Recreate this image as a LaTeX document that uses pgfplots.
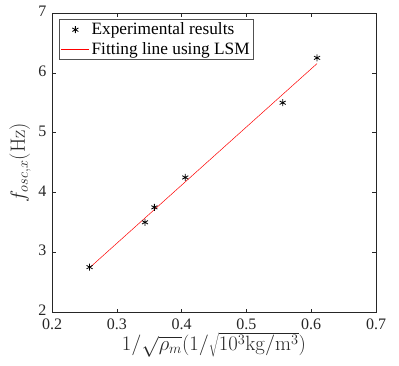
\documentclass[border=0pt]{standalone}
\usepackage[no-math]{fontspec}
\setmainfont{Liberation Serif}
\usepackage{pgfplots}
\pgfplotsset{compat=1.18}
\definecolor{axgray}{RGB}{38,38,38}
\begin{document}
\begin{tikzpicture}
\begin{axis}[
  scale only axis,
  width=324bp, height=299bp,
  xmin=0.2, xmax=0.7, ymin=2, ymax=7,
  xtick={0.2,0.3,0.4,0.5,0.6,0.7},
  ytick={2,3,4,5,6,7},
  /pgf/number format/assume math mode=true,
  xticklabel={\pgfmathprintnumber[fixed,precision=1]{\tick}},
  yticklabel={\pgfmathprintnumber[fixed,precision=0]{\tick}},
  tick align=inside,
  major tick length=3.5bp,
  axis line style={axgray, line width=0.5pt},
  every tick/.style={axgray, line width=0.5pt},
  tick label style={font=\fontsize{16bp}{18bp}\selectfont, text=axgray},
  xticklabel style={yshift=-3bp},
  yticklabel style={xshift=-2bp, yshift=1.5bp},
  label style={text=axgray},
  xlabel={\fontsize{21.5bp}{23bp}\selectfont $1/\sqrt{\rho_m}(1/\sqrt{10^3\mathrm{kg/m^3}})$},
  ylabel={\fontsize{21.5bp}{23bp}\selectfont $f_{osc,x}(\mathrm{Hz})$},
  xlabel style={yshift=4bp},
  ylabel style={yshift=1bp},
  legend style={at={(rel axis cs:0.022,0.98)}, anchor=north west,
    draw=axgray!80, line width=1pt, font=\fontsize{17.3bp}{19bp}\selectfont,
    text=black, inner sep=1.5bp, row sep=2bp, cells={anchor=west}},
  legend cell align=left,
  legend image code/.code={\draw[mark repeat=2,mark phase=2,#1] plot coordinates {(0bp,0bp)(14bp,0bp)(28bp,0bp)};},
]
\addplot[only marks, mark=asterisk, mark size=3.5bp, black, thick]
  coordinates {(0.258,2.75) (0.3435,3.5) (0.358,3.75) (0.4057,4.25) (0.556,5.5) (0.609,6.25)};
\addlegendentry{Experimental results}
\addplot[red, line width=0.5pt, no marks]
  coordinates {(0.258,2.74) (0.609,6.154)};
\addlegendentry{Fitting line using LSM}
\end{axis}
\useasboundingbox ([shift={(-52bp,-54bp)}]current axis.south west) rectangle ([shift={(23bp,13bp)}]current axis.north east);
\end{tikzpicture}
\end{document}
